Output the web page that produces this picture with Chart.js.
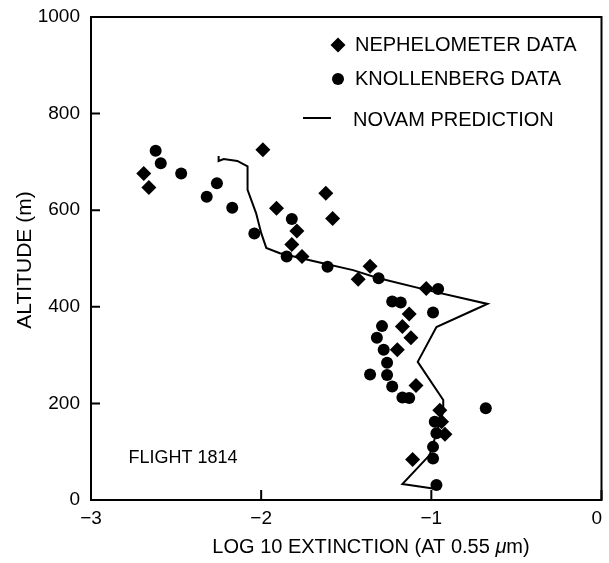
<!DOCTYPE html>
<html>
<head>
<meta charset="utf-8">
<script src="https://cdn.jsdelivr.net/npm/chart.js@4.4.1/dist/chart.umd.min.js"></script>
<style>
  html, body { margin: 0; padding: 0; background: #fff; }
  #wrap { width: 609px; height: 563px; }
</style>
</head>
<body>
<div id="wrap"><canvas id="chart" width="609" height="563"></canvas></div>
<script>
// nephelometer: log10 extinction / altitude (m)
const nephX = [-2.69, -2.66, -1.99, -1.62, -1.58, -1.91, -1.79, -1.82, -1.76, -1.43, -1.36,
               -1.03, -1.13, -1.17, -1.12, -1.20, -1.09, -0.95, -0.94, -0.92, -1.11];
const nephY = [676, 647, 725, 635, 583, 604, 557, 529, 504, 457, 484,
               438, 385, 359, 336, 311, 237, 186, 162, 136, 84];

// knollenberg probe
const knolX = [-2.62, -2.59, -2.47, -2.26, -2.32, -2.17, -2.04, -1.82, -1.85, -1.61, -1.31,
               -0.96, -1.23, -1.18, -0.99, -1.29, -1.32, -1.28, -1.26, -1.36, -1.26, -1.23,
               -1.17, -1.13, -0.68, -0.98, -0.97, -0.99, -0.99, -0.97];
const knolY = [723, 697, 676, 656, 628, 605, 552, 582, 504, 483, 459,
               437, 411, 409, 388, 360, 336, 311, 284, 260, 259, 235,
               212, 211, 190, 162, 138, 110, 86, 31];

// model profile, in flight order (top down)
const novamX = [-2.25, -2.25, -2.22, -2.14, -2.08, -2.08, -2.03, -2.00, -1.97, -1.89, -1.65,
                -1.46, -1.32, -1.03, -0.67, -0.74, -0.97, -1.08, -0.93, -0.93, -1.01, -1.17, -0.99];
const novamY = [712, 702, 706, 702, 691, 642, 594, 553, 522, 511, 491,
                476, 460, 435, 406, 395, 358, 286, 207, 183, 93, 33, 24];

const xTicks = [-3, -2, -1, 0];
const yTicks = [0, 200, 400, 600, 800, 1000];
const seriesNames = ['NEPHELOMETER DATA', 'KNOLLENBERG DATA', 'NOVAM PREDICTION'];
const flightLabel = 'FLIGHT 1814';

const FONT = '"Liberation Sans", Arial, Helvetica, sans-serif';
Chart.defaults.font.family = FONT;
Chart.defaults.color = '#000';

const pts = (xs, ys) => xs.map((x, i) => ({ x: x, y: ys[i] }));
const minus = v => (v < 0 ? '\u2212' + Math.abs(v) : String(v));

// frame, inward ticks, titles and legend
const decorations = {
  id: 'decorations',
  afterDatasetsDraw(chart) {
    const { ctx, chartArea: a, scales: { x, y } } = chart;
    ctx.save();
    ctx.strokeStyle = '#000';
    ctx.lineWidth = 2;
    ctx.strokeRect(a.left, a.top, a.right - a.left, a.bottom - a.top);
    ctx.beginPath();
    yTicks.forEach(v => {
      const py = y.getPixelForValue(v);
      ctx.moveTo(a.left, py);
      ctx.lineTo(a.left + 9, py);
    });
    xTicks.forEach(v => {
      const px = x.getPixelForValue(v);
      ctx.moveTo(px, a.bottom);
      ctx.lineTo(px, a.bottom - 10);
    });
    ctx.stroke();
    ctx.restore();
  },
  afterDraw(chart) {
    const { ctx, scales: { x, y } } = chart;
    ctx.save();
    ctx.fillStyle = '#000';
    ctx.textBaseline = 'middle';

    // x title with italic mu
    const t1 = 'LOG 10 EXTINCTION (AT 0.55 ', t2 = '\u03bc', t3 = 'm)';
    const f = '20px ' + FONT, fi = 'italic 20px ' + FONT;
    ctx.font = f;
    const w1 = ctx.measureText(t1).width, w3 = ctx.measureText(t3).width;
    ctx.font = fi;
    const w2 = ctx.measureText(t2).width;
    let sx = 371 - (w1 + w2 + w3) / 2;
    ctx.textAlign = 'left';
    ctx.font = f; ctx.fillText(t1, sx, 547);
    ctx.font = fi; ctx.fillText(t2, sx + w1, 547);
    ctx.font = f; ctx.fillText(t3, sx + w1 + w2, 547);

    // y title
    ctx.save();
    ctx.translate(25, 260);
    ctx.rotate(-Math.PI / 2);
    ctx.textAlign = 'center';
    ctx.font = '21px ' + FONT;
    ctx.fillText('ALTITUDE (m)', 0, 0);
    ctx.restore();

    // flight id
    ctx.font = '18px ' + FONT;
    ctx.textAlign = 'left';
    ctx.fillText(flightLabel, x.getPixelForValue(-2.78), y.getPixelForValue(87));

    // legend
    ctx.font = '20px ' + FONT;
    const rows = [45, 79, 120];
    chart.data.datasets.forEach((ds, i) => {
      const cy = rows[i];
      if (ds.showLine) {
        ctx.beginPath();
        ctx.lineWidth = 2;
        ctx.moveTo(303, cy - 2);
        ctx.lineTo(331, cy - 2);
        ctx.stroke();
        ctx.fillText(ds.label, 353, cy);
      } else {
        const r = ds.pointRadius;
        ctx.beginPath();
        if (ds.pointStyle === 'rectRot') {
          ctx.moveTo(338 - r, cy); ctx.lineTo(338, cy - r);
          ctx.lineTo(338 + r, cy); ctx.lineTo(338, cy + r);
          ctx.closePath();
        } else {
          ctx.arc(338, cy, r, 0, Math.PI * 2);
        }
        ctx.fill();
        ctx.fillText(ds.label, 355, cy);
      }
    });
    ctx.restore();
  }
};

new Chart(document.getElementById('chart'), {
  type: 'scatter',
  data: {
    datasets: [
      {
        label: seriesNames[0],
        data: pts(nephX, nephY),
        pointStyle: 'rectRot',
        pointRadius: 7.5,
        backgroundColor: '#000',
        borderWidth: 0
      },
      {
        label: seriesNames[1],
        data: pts(knolX, knolY),
        pointStyle: 'circle',
        pointRadius: 6,
        backgroundColor: '#000',
        borderWidth: 0
      },
      {
        label: seriesNames[2],
        data: pts(novamX, novamY),
        showLine: true,
        pointRadius: 0,
        borderColor: '#000',
        borderWidth: 2,
        tension: 0
      }
    ]
  },
  options: {
    responsive: false,
    animation: false,
    layout: { padding: { top: 17, right: 2, left: 0, bottom: 0 } },
    plugins: { legend: { display: false }, tooltip: { enabled: false } },
    scales: {
      x: {
        type: 'linear',
        min: -3,
        max: 0,
        afterBuildTicks: s => { s.ticks = xTicks.map(v => ({ value: v })); },
        grid: { display: false, drawTicks: false },
        border: { display: false },
        ticks: {
          font: { size: 19 },
          padding: 7,
          maxRotation: 0,
          // trailing space keeps the last label inside the canvas
          callback: v => (v === 0 ? '0\u2002' : minus(v))
        },
        afterFit: s => { s.height = 63; s.paddingLeft = 0; s.paddingRight = 0; }
      },
      y: {
        type: 'linear',
        min: 0,
        max: 1000,
        afterBuildTicks: s => { s.ticks = yTicks.map(v => ({ value: v })); },
        grid: { display: false, drawTicks: false },
        border: { display: false },
        ticks: { font: { size: 19 }, padding: 11, callback: v => String(v) },
        afterFit: s => { s.width = 91; s.paddingTop = 0; s.paddingBottom = 0; }
      }
    }
  },
  plugins: [decorations]
});
</script>
</body>
</html>
